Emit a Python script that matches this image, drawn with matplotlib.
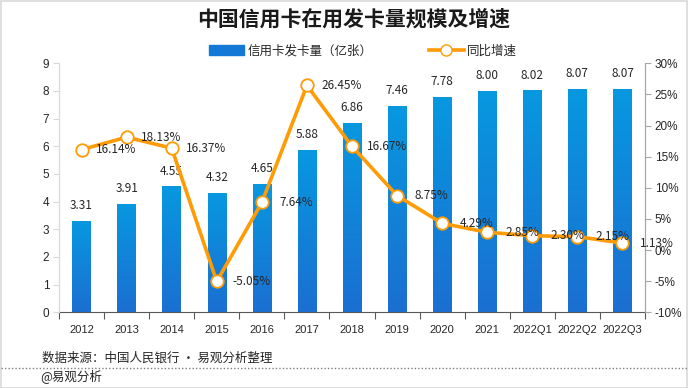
#!/usr/bin/env python3
"""中国信用卡在用发卡量规模及增速"""

import matplotlib
matplotlib.use("Agg")
import matplotlib.pyplot as plt
import numpy as np
from matplotlib.colors import LinearSegmentedColormap
from matplotlib.lines import Line2D
from matplotlib.patches import Rectangle

plt.rcParams["font.family"] = ["Noto Sans CJK SC", "DejaVu Sans"]

periods = ["2012", "2013", "2014", "2015", "2016", "2017", "2018",
           "2019", "2020", "2021", "2022Q1", "2022Q2", "2022Q3"]
cards = [3.31, 3.91, 4.55, 4.32, 4.65, 5.88, 6.86, 7.46, 7.78, 8.00, 8.02, 8.07, 8.07]
growth = [16.14, 18.13, 16.37, -5.05, 7.64, 26.45, 16.67, 8.75, 4.29, 2.85, 2.30, 2.15, 1.13]

BAR_TOP = "#0798e0"
BAR_BOTTOM = "#1b6fd1"
LINE = "#ff9b05"
NUM_FONT = "Liberation Sans"

fig = plt.figure(figsize=(6.88, 3.88), dpi=100)
ax = fig.add_axes([59 / 688, 1 - 312.3 / 388, (645 - 59) / 688, (312.3 - 63.3) / 388])
ax2 = ax.twinx()

x = np.arange(len(periods))
bars = ax.bar(x, cards, width=0.41, color=BAR_BOTTOM, zorder=2)

# vertical gradient inside each bar
cmap = LinearSegmentedColormap.from_list("bar", [BAR_BOTTOM, BAR_TOP])
grad = np.linspace(0, 1, 256).reshape(-1, 1)
for b in bars:
    x0, w, h = b.get_x(), b.get_width(), b.get_height()
    im = ax.imshow(grad, cmap=cmap, origin="lower", aspect="auto",
                   extent=[x0, x0 + w, 0, h], zorder=2.1)
    im.set_clip_path(b)

for xi, v in zip(x, cards):
    ax.annotate(f"{v:.2f}", (xi, v), xytext=(0, 11), textcoords="offset points",
                ha="center", va="center", fontsize=8.5, color="#262626")

ax.set_xlim(-0.5, len(periods) - 0.5)
ax.set_ylim(0, 9)
ax.set_yticks(range(0, 10))
ax2.set_ylim(-10, 30)
ax2.set_yticks(range(-10, 31, 5))
ax2.set_yticklabels([f"{t}%" for t in range(-10, 31, 5)])

ax2.plot(x, growth, color=LINE, lw=2.6, marker="o", markersize=9,
         markerfacecolor="white", markeredgecolor=LINE, markeredgewidth=1.3, zorder=3)
for xi, v in zip(x, growth):
    ax2.annotate(f"{v:.2f}%", (xi, v), xytext=(25, 0), textcoords="offset points",
                 ha="center", va="center", fontsize=8.5, color="#262626", zorder=4)

# category boundary ticks on x, labels centred
ax.set_xticks(np.arange(-0.5, len(periods)), labels=[])
ax.set_xticks(x, labels=periods, minor=True)
ax.tick_params(axis="x", which="major", length=5, color="#595959", direction="out")
ax.tick_params(axis="x", which="minor", length=0, pad=9, labelsize=8, labelcolor="#262626")
for lbl in ax.get_xticklabels(minor=True):
    lbl.set_fontfamily(NUM_FONT)
ax.tick_params(axis="y", length=4, color="#d9d9d9", labelsize=8.5, labelcolor="#262626", pad=3)
ax2.tick_params(axis="y", length=4, color="#a6a6a6", labelsize=8.5, labelcolor="#262626", pad=3)
for lbl in ax.get_yticklabels() + ax2.get_yticklabels():
    lbl.set_fontfamily(NUM_FONT)

for a in (ax, ax2):
    a.spines["top"].set_visible(False)
    a.spines["left"].set_color("#d9d9d9")
    a.spines["right"].set_color("#a6a6a6")
    a.spines["bottom"].set_color("#595959")
ax2.spines["bottom"].set_visible(False)
ax.set_zorder(1)
ax2.set_zorder(2)
ax2.patch.set_visible(False)

fig.text(354 / 688, 1 - 19 / 388, "中国信用卡在用发卡量规模及增速", ha="center", va="center",
         fontsize=15, fontweight="bold", color="#1a1a1a")

handles = [Rectangle((0, 0), 1, 1, color="#1478d6"),
           Line2D([], [], color=LINE, lw=2.6, marker="o", markersize=8,
                  markerfacecolor="white", markeredgecolor=LINE)]
fig.legend(handles, ["信用卡发卡量（亿张）", "同比增速"], loc="center",
           bbox_to_anchor=(363 / 688, 1 - 51 / 388), ncol=2, frameon=False, fontsize=9,
           handlelength=2.8, handleheight=0.8, columnspacing=4.5, handletextpad=0.3,
           labelcolor="#262626")

fig.text(42 / 688, 1 - 358 / 388, "数据来源：中国人民银行 · 易观分析整理", ha="left",
         va="center", fontsize=9, color="#262626")
fig.text(40 / 688, 1 - 376 / 388, "@易观分析", ha="left", va="center",
         fontsize=9, color="#262626")
fig.add_artist(Line2D([0.002, 0.998], [1 - 368 / 388] * 2, color="#7f7f7f",
                      lw=1, linestyle=(0, (1, 1.5)), transform=fig.transFigure))
fig.add_artist(Rectangle((0.5 / 688, 0.5 / 388), 686.5 / 688, 386.5 / 388, fill=False,
                         edgecolor="#d9d9d9", lw=1.2, transform=fig.transFigure))

fig.savefig("out.png", dpi=100)
